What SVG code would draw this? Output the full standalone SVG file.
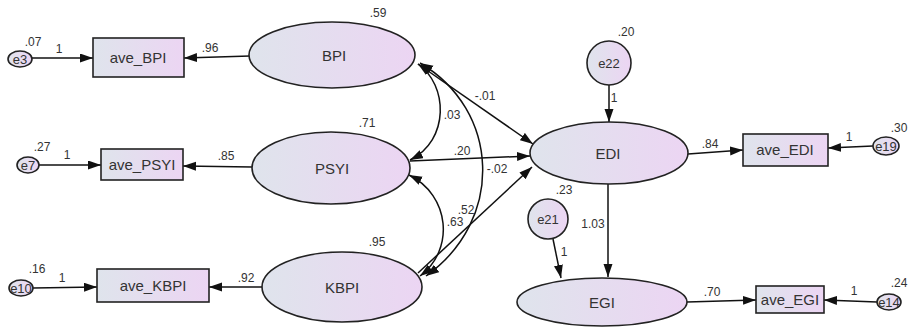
<svg xmlns="http://www.w3.org/2000/svg" width="908" height="330" viewBox="0 0 908 330">
<defs>
<linearGradient id="g" x1="0" y1="0" x2="1" y2="0">
<stop offset="0" stop-color="#dfe4ec"/>
<stop offset="1" stop-color="#ecd5f3"/>
</linearGradient>
<marker id="ah" markerUnits="userSpaceOnUse" markerWidth="14" markerHeight="10" refX="13" refY="4.5" orient="auto-start-reverse">
<path d="M0,0 L13,4.5 L0,9 z" fill="#111"/>
</marker>
</defs>
<style>
.n{fill:url(#g);stroke:#222;stroke-width:1.6}
.t{font-family:"Liberation Sans",Arial,sans-serif;font-size:15px;fill:#333;text-anchor:middle}
.s{font-family:"Liberation Sans",Arial,sans-serif;font-size:13px;fill:#333;text-anchor:middle}
.v{font-family:"Liberation Sans",Arial,sans-serif;font-size:12px;fill:#333;text-anchor:middle}
.c{fill:none;stroke:#111;stroke-width:1.5}
.a{marker-end:url(#ah)}
.b{marker-start:url(#ah);marker-end:url(#ah)}
</style>
<rect width="908" height="330" fill="#fff"/>
<g id="connectors">
<line class="c a" x1="32" y1="58" x2="93" y2="58"/>
<line class="c a" x1="250" y1="56" x2="184" y2="58"/>
<line class="c a" x1="39" y1="165" x2="101" y2="165"/>
<line class="c a" x1="252" y1="167" x2="183" y2="166"/>
<line class="c a" x1="33" y1="288" x2="97" y2="287"/>
<line class="c a" x1="263" y1="287" x2="209" y2="287"/>
<line class="c a" x1="688" y1="154" x2="743" y2="150"/>
<line class="c a" x1="873" y1="146" x2="828" y2="148"/>
<line class="c a" x1="687" y1="302" x2="756" y2="300"/>
<line class="c a" x1="877" y1="302" x2="824" y2="300"/>
<line class="c a" x1="609" y1="85" x2="609" y2="122"/>
<line class="c a" x1="553" y1="239" x2="561" y2="278"/>
<line class="c a" x1="608" y1="184" x2="608" y2="277"/>
<line class="c a" x1="418" y1="64" x2="533" y2="144"/>
<line class="c a" x1="410" y1="161" x2="530" y2="156"/>
<line class="c a" x1="418" y1="273" x2="532" y2="167"/>
<path class="c b" d="M418,64 C448,85 450,140 410,160"/>
<path class="c b" d="M409,175 C450,195 455,250 420,276"/>
<path class="c b" d="M420,63 C500,110 505,220 426,276"/>
<text class="v" x="33" y="46">.07</text>
<text class="v" x="59" y="53">1</text>
<text class="v" x="210" y="52">.96</text>
<text class="v" x="42" y="151">.27</text>
<text class="v" x="67" y="159">1</text>
<text class="v" x="226" y="160">.85</text>
<text class="v" x="37" y="273">.16</text>
<text class="v" x="62" y="282">1</text>
<text class="v" x="246" y="282">.92</text>
<text class="v" x="710" y="148">.84</text>
<text class="v" x="849" y="141">1</text>
<text class="v" x="899" y="132">.30</text>
<text class="v" x="712" y="296">.70</text>
<text class="v" x="854" y="295">1</text>
<text class="v" x="899" y="287">.24</text>
<text class="v" x="593" y="228">1.03</text>
<text class="v" x="614" y="102">1</text>
<text class="v" x="564" y="256">1</text>
<text class="v" x="452" y="119">.03</text>
<text class="v" x="485" y="100">-.01</text>
<text class="v" x="462" y="155">.20</text>
<text class="v" x="497" y="173">-.02</text>
<text class="v" x="466" y="214">.52</text>
<text class="v" x="455" y="226">.63</text>
</g>
<g id="e3"><ellipse class="n" cx="20" cy="59" rx="12" ry="8"/><text class="s" x="20" y="64">e3</text></g>
<g id="e7"><ellipse class="n" cx="28" cy="165" rx="11" ry="8"/><text class="s" x="28" y="170">e7</text></g>
<g id="e10"><ellipse class="n" cx="21" cy="288" rx="12" ry="8"/><text class="s" x="21" y="293">e10</text></g>
<g id="e19"><ellipse class="n" cx="886" cy="146" rx="13" ry="9"/><text class="s" x="886" y="151">e19</text></g>
<g id="e14"><ellipse class="n" cx="889" cy="302" rx="12" ry="8"/><text class="s" x="889" y="307">e14</text></g>
<g id="ave_BPI"><rect class="n" x="93" y="38" width="91" height="39"/><text class="t" x="138" y="63">ave_BPI</text></g>
<g id="ave_PSYI"><rect class="n" x="101" y="149" width="82" height="31"/><text class="t" x="142" y="170">ave_PSYI</text></g>
<g id="ave_KBPI"><rect class="n" x="97" y="269" width="112" height="33"/><text class="t" x="153" y="291">ave_KBPI</text></g>
<g id="ave_EDI"><rect class="n" x="743" y="134" width="85" height="32"/><text class="t" x="785" y="155">ave_EDI</text></g>
<g id="ave_EGI"><rect class="n" x="756" y="286" width="68" height="27"/><text class="t" x="790" y="305">ave_EGI</text></g>
<g id="BPI"><ellipse class="n" cx="332" cy="55" rx="83" ry="33"/><text class="t" x="334" y="61">BPI</text><text class="v" x="378" y="17">.59</text></g>
<g id="PSYI"><ellipse class="n" cx="331" cy="168" rx="79" ry="36"/><text class="t" x="332" y="174">PSYI</text><text class="v" x="367" y="127">.71</text></g>
<g id="KBPI"><ellipse class="n" cx="342" cy="287" rx="80" ry="35"/><text class="t" x="342" y="293">KBPI</text><text class="v" x="377" y="246">.95</text></g>
<g id="EDI"><ellipse class="n" cx="609" cy="153" rx="79" ry="31"/><text class="t" x="608" y="159">EDI</text></g>
<g id="EGI"><ellipse class="n" cx="602" cy="302" rx="85" ry="24"/><text class="t" x="602" y="308">EGI</text></g>
<g id="e22"><circle class="n" cx="609" cy="63" r="22"/><text class="s" x="609" y="68">e22</text><text class="v" x="626" y="36">.20</text></g>
<g id="e21"><circle class="n" cx="548" cy="219" r="20"/><text class="s" x="548" y="224">e21</text><text class="v" x="564" y="194">.23</text></g>
</svg>
